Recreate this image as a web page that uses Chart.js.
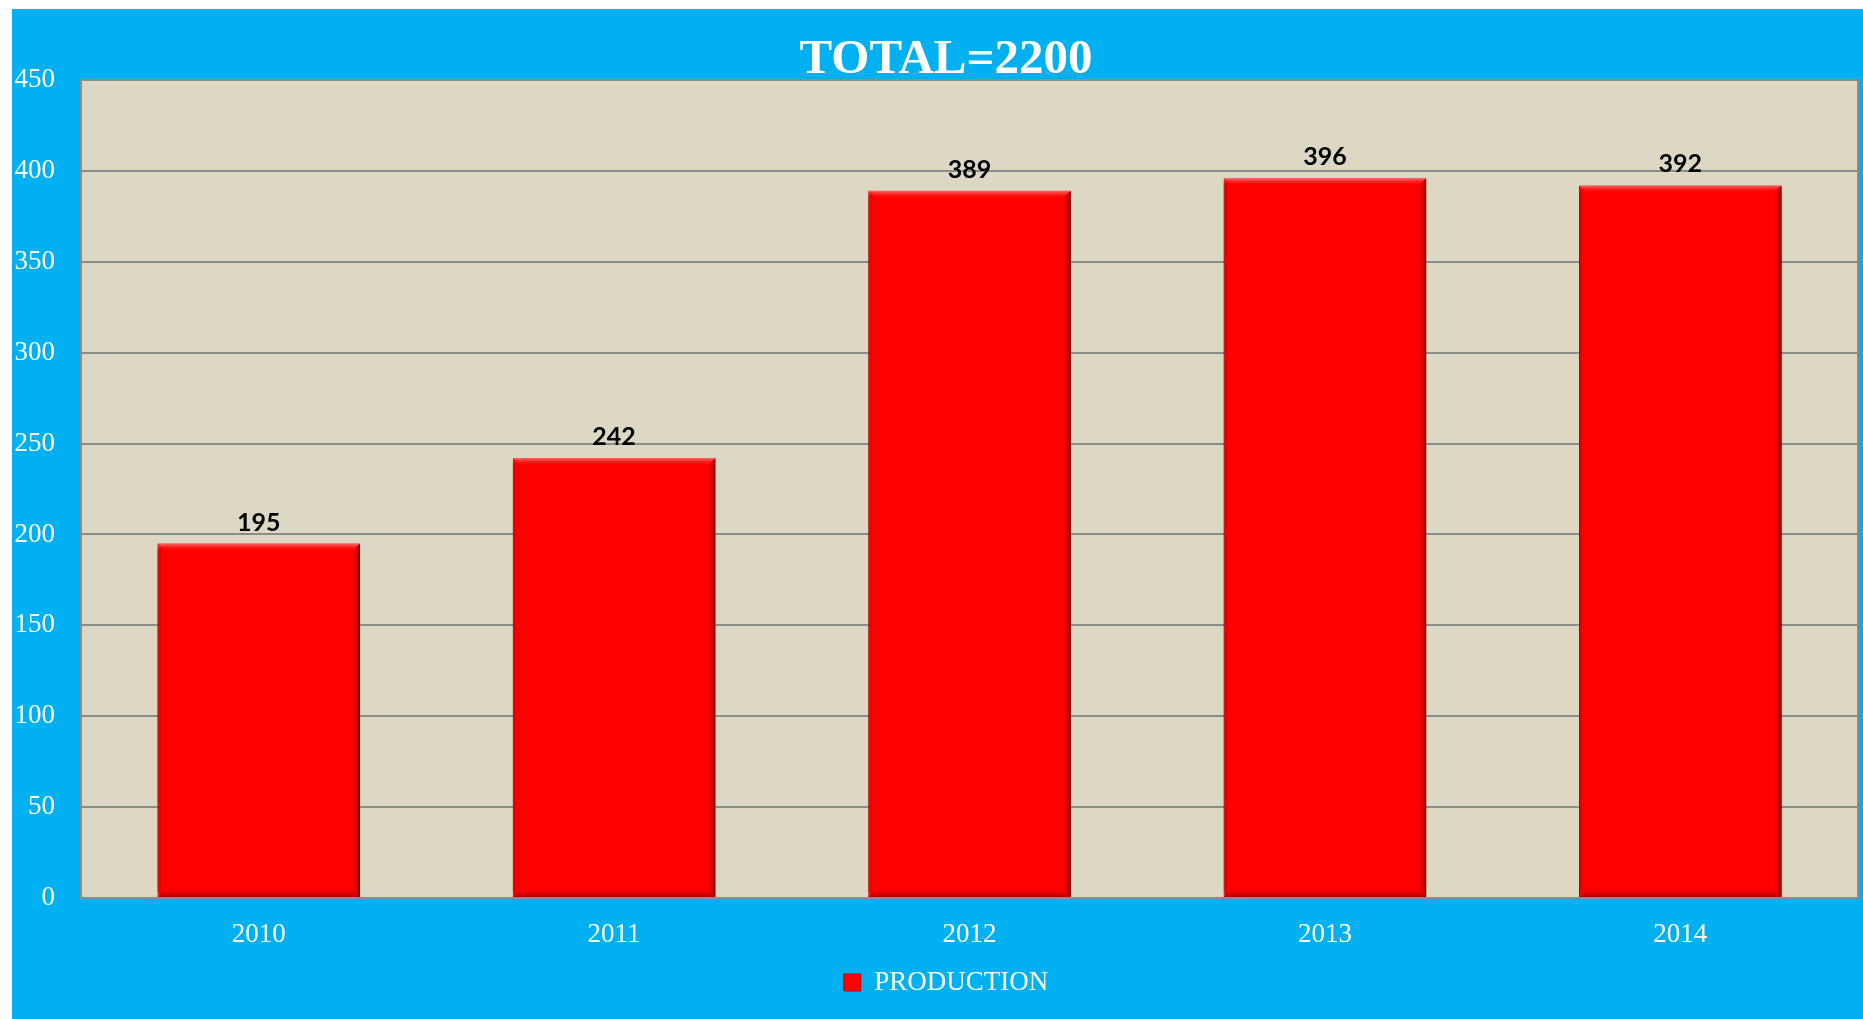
<!DOCTYPE html>
<html>
<head>
<meta charset="utf-8">
<title>Production</title>
<script src="https://cdn.jsdelivr.net/npm/chart.js@4.4.1/dist/chart.umd.min.js"></script>
<style>
    html, body { margin: 0; padding: 0; background: #ffffff; overflow: hidden; }
    #wrap { position: absolute; left: 12px; top: 9px; width: 1851px; height: 1010px; background: #00B0F0; }
</style>
</head>
<body>
<div id="wrap"><canvas id="myChart"></canvas></div>
<script>
// Chart data
const years = ["2010", "2011", "2012", "2013", "2014"];
const production = [195, 242, 389, 396, 392];
const seriesName = "PRODUCTION";
const titleText = "TOTAL=2200";

// Y axis range
const yMin = 0;
const yMax = 450;
const yStep = 50;

const gridGray = '#8C8C8C';
const serif = "'Liberation Serif', 'Times New Roman', serif";
const tickFont = "27px 'Liberation Serif', 'Times New Roman', serif";

// tan plot background + right border
const plotArea = {
    id: 'plotArea',
    beforeDraw(chart) {
        const { ctx, chartArea: a } = chart;
        ctx.save();
        ctx.fillStyle = '#DDD8C3';
        ctx.fillRect(a.left, a.top, a.right - a.left, a.bottom - a.top);
        ctx.restore();
    },
    afterDraw(chart) {
        const { ctx, chartArea: a } = chart;
        ctx.save();
        ctx.strokeStyle = gridGray;
        ctx.lineWidth = 2;
        ctx.beginPath();
        ctx.moveTo(a.right, a.top);
        ctx.lineTo(a.right, a.bottom);
        ctx.stroke();
        ctx.restore();
    }
};

// y tick labels drawn by hand: the built-in ones get clipped to the
// (narrow) axis box, and the axis has to stay narrow so the title and
// legend sit where they do in the original
const yLabels = {
    id: 'yLabels',
    afterDraw(chart) {
        const { ctx } = chart;
        const scale = chart.scales.y;
        ctx.save();
        ctx.fillStyle = '#FFFFFF';
        ctx.font = tickFont;
        ctx.textAlign = 'right';
        ctx.textBaseline = 'middle';
        scale.ticks.forEach(t => {
            ctx.fillText(String(t.value), 43, scale.getPixelForValue(t.value));
        });
        ctx.restore();
    }
};

// shadow, bevel and value labels for the bars
const barStyle = {
    id: 'barStyle',
    beforeDatasetsDraw(chart) {
        const ctx = chart.ctx;
        ctx.save();
        ctx.shadowColor = 'rgba(0, 0, 0, 0.45)';
        ctx.shadowBlur = 8;
        ctx.shadowOffsetX = 4;
        ctx.shadowOffsetY = 3;
    },
    afterDatasetsDraw(chart) {
        const ctx = chart.ctx;
        ctx.restore();
        const meta = chart.getDatasetMeta(0);
        meta.data.forEach((bar, i) => {
            const { x, y, base, width } = bar.getProps(['x', 'y', 'base', 'width'], true);
            const left = x - width / 2;
            const right = x + width / 2;
            ctx.save();
            // top highlight
            let g = ctx.createLinearGradient(0, y, 0, y + 8);
            g.addColorStop(0, 'rgba(255, 110, 110, 0.95)');
            g.addColorStop(1, 'rgba(255, 0, 0, 0)');
            ctx.fillStyle = g;
            ctx.beginPath();
            ctx.moveTo(left, y);
            ctx.lineTo(right, y);
            ctx.lineTo(right - 8, y + 8);
            ctx.lineTo(left + 8, y + 8);
            ctx.closePath();
            ctx.fill();
            // right edge
            g = ctx.createLinearGradient(right - 7, 0, right, 0);
            g.addColorStop(0, 'rgba(150, 0, 0, 0)');
            g.addColorStop(1, 'rgba(130, 0, 0, 0.85)');
            ctx.fillStyle = g;
            ctx.beginPath();
            ctx.moveTo(right, y);
            ctx.lineTo(right, base);
            ctx.lineTo(right - 7, base - 7);
            ctx.lineTo(right - 7, y + 7);
            ctx.closePath();
            ctx.fill();
            // bottom edge
            g = ctx.createLinearGradient(0, base - 7, 0, base);
            g.addColorStop(0, 'rgba(150, 0, 0, 0)');
            g.addColorStop(1, 'rgba(150, 0, 0, 0.7)');
            ctx.fillStyle = g;
            ctx.beginPath();
            ctx.moveTo(left, base);
            ctx.lineTo(right, base);
            ctx.lineTo(right - 7, base - 7);
            ctx.lineTo(left + 7, base - 7);
            ctx.closePath();
            ctx.fill();
            // left edge
            g = ctx.createLinearGradient(left, 0, left + 5, 0);
            g.addColorStop(0, 'rgba(170, 0, 0, 0.45)');
            g.addColorStop(1, 'rgba(170, 0, 0, 0)');
            ctx.fillStyle = g;
            ctx.fillRect(left, y + 5, 5, base - y - 10);

            // value label
            ctx.fillStyle = '#000000';
            ctx.font = "bold 25px Lato, 'Noto Sans', sans-serif";
            ctx.textAlign = 'center';
            ctx.textBaseline = 'alphabetic';
            ctx.fillText(String(production[i]), x, y - 13);
            ctx.restore();
        });
    }
};

const ctx = document.getElementById('myChart').getContext('2d');

new Chart(ctx, {
    type: 'bar',
    data: {
        labels: years,
        datasets: [{
            label: seriesName,
            data: production,
            backgroundColor: '#FF0000',
            borderColor: '#C80000',
            borderWidth: 1,
            categoryPercentage: 1.0,
            barPercentage: 0.57
        }]
    },
    options: {
        responsive: true,
        maintainAspectRatio: false,
        animation: false,
        layout: {
            padding: { left: 22, right: 5, top: 0, bottom: 13 }
        },
        plugins: {
            title: {
                display: true,
                text: titleText,
                color: '#FFFFFF',
                font: { family: serif, size: 49, weight: 'bold', lineHeight: 0.816 },
                padding: { top: 31, bottom: 0 }
            },
            legend: {
                display: true,
                position: 'bottom',
                labels: {
                    color: '#FFFFFF',
                    font: { family: serif, size: 27 },
                    boxWidth: 17,
                    boxHeight: 17,
                    padding: 10
                }
            },
            tooltip: { enabled: false }
        },
        scales: {
            x: {
                grid: { display: false },
                border: { display: true, color: gridGray, width: 2 },
                ticks: {
                    color: '#FFFFFF',
                    font: { family: serif, size: 27 },
                    padding: 13
                },
                afterFit(scale) { scale.height = 61; }
            },
            y: {
                min: yMin,
                max: yMax,
                grid: { color: gridGray, lineWidth: 2, drawTicks: false },
                border: { display: true, color: gridGray, width: 2 },
                ticks: {
                    stepSize: yStep,
                    display: false
                },
                afterFit(scale) { scale.width = 47; }
            }
        }
    },
    plugins: [plotArea, yLabels, barStyle]
});
</script>
</body>
</html>
